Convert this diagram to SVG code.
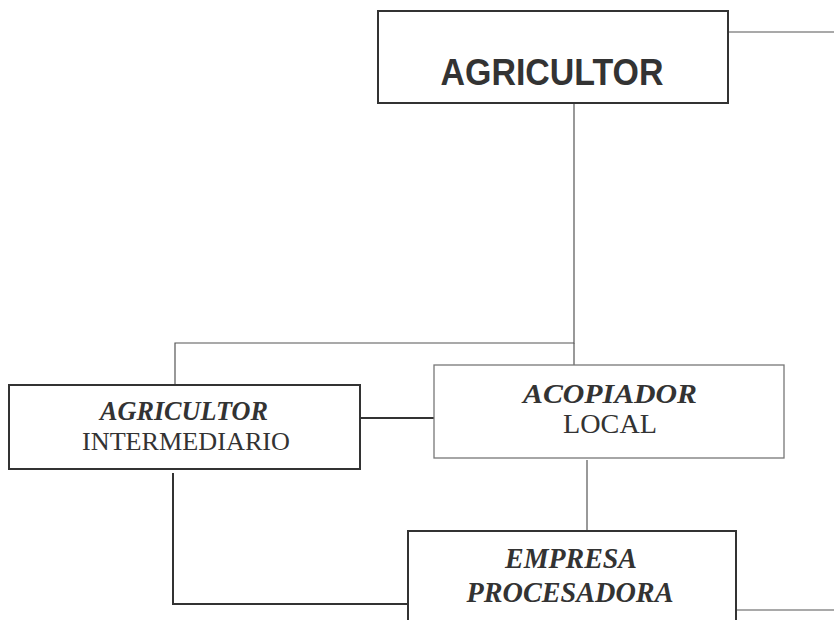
<svg xmlns="http://www.w3.org/2000/svg" width="834" height="620" viewBox="0 0 834 620">
<style>
.box{fill:#fff;stroke:#333;stroke-width:2}
.boxl{fill:#fff;stroke:#777;stroke-width:1.3}
.c{fill:none;stroke:#555;stroke-width:1.2}
.cd{fill:none;stroke:#333;stroke-width:2}
.s{font-family:"Liberation Sans",Arial,sans-serif;font-weight:bold;fill:#333;text-anchor:middle}
.t{font-family:"Liberation Serif","Times New Roman",serif;fill:#333;text-anchor:middle}
.bi{font-weight:bold;font-style:italic}
</style>
<rect width="834" height="620" fill="#fff"/>
<g id="connectors">
<path class="c" d="M728,32 H834"/>
<path class="c" d="M574,103 V343 H175 V385"/>
<path class="c" d="M574,343 V365"/>
<path class="cd" d="M361,418 H434"/>
<path class="c" d="M587,460 V531"/>
<path class="cd" d="M173,473 V604 H408"/>
<path class="c" d="M736,610 H834"/>
</g>
<g id="n-agricultor">
<rect class="box" x="378" y="11" width="350" height="92"/>
<text class="s" x="552" y="85" font-size="36" textLength="223" lengthAdjust="spacingAndGlyphs">AGRICULTOR</text>
</g>
<g id="n-intermediario">
<rect class="box" x="9" y="385" width="351" height="84"/>
<text class="t bi" x="184" y="420" font-size="27" textLength="168" lengthAdjust="spacingAndGlyphs">AGRICULTOR</text>
<text class="t" x="186" y="450" font-size="26" textLength="208" lengthAdjust="spacingAndGlyphs">INTERMEDIARIO</text>
</g>
<g id="n-acopiador">
<rect class="boxl" x="434" y="365" width="350" height="93"/>
<text class="t bi" x="610" y="403" font-size="27" textLength="174" lengthAdjust="spacingAndGlyphs">ACOPIADOR</text>
<text class="t" x="610" y="433" font-size="28" textLength="94" lengthAdjust="spacingAndGlyphs">LOCAL</text>
</g>
<g id="n-empresa">
<rect class="box" x="408" y="531" width="328" height="100"/>
<text class="t bi" x="571" y="568" font-size="29" textLength="132" lengthAdjust="spacingAndGlyphs">EMPRESA</text>
<text class="t bi" x="570" y="601.5" font-size="29" textLength="207" lengthAdjust="spacingAndGlyphs">PROCESADORA</text>
</g>
</svg>
